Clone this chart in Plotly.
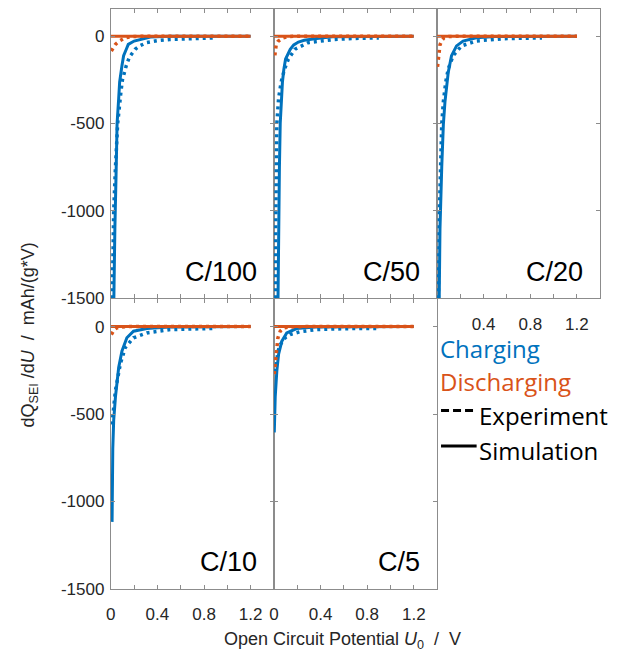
import plotly.graph_objects as go

W, H = 621, 652
BLUE = "#0072BD"
ORANGE = "#D95319"

panel_labels = ["C/100", "C/50", "C/20", "C/10", "C/5"]

# Charging, simulation (solid)
chg_sim_x = [
    [0.022, 0.025, 0.035, 0.045, 0.054, 0.068, 0.076, 0.096, 0.11, 0.133, 0.15, 0.2, 0.27, 0.34, 0.5, 1.2],
    [0.032, 0.034, 0.04, 0.047, 0.054, 0.063, 0.073, 0.085, 0.10, 0.14, 0.17, 0.21, 0.26, 0.35, 0.5, 1.2],
    [0.015, 0.017, 0.025, 0.04, 0.054, 0.068, 0.096, 0.124, 0.167, 0.223, 0.336, 0.5, 1.2],
    [0.011, 0.013, 0.017, 0.025, 0.04, 0.068, 0.096, 0.138, 0.195, 0.31, 0.5, 1.2],
    [0.003, 0.011, 0.025, 0.04, 0.068, 0.11, 0.195, 0.35, 1.2],
]
chg_sim_y = [
    [-1700, -1500, -1100, -800, -500, -355, -262, -168, -112, -75, -47, -28, -15, -5, -1, 0],
    [-1700, -1500, -1000, -750, -500, -370, -262, -190, -131, -75, -50, -34, -24, -15, -3, 0],
    [-1700, -1500, -1100, -750, -505, -374, -206, -112, -56, -28, -9, -2, 0],
    [-1117, -900, -700, -534, -402, -233, -139, -64, -26, -11, -2, 0],
    [-605, -402, -252, -158, -83, -36, -11, -2, 0],
]

# Charging, experiment (dotted)
chg_exp_x = [
    [0.008, 0.011, 0.025, 0.04, 0.059, 0.087, 0.1, 0.133, 0.16, 0.209, 0.25, 0.31, 0.4, 0.506, 0.7, 0.9],
    [0.01, 0.011, 0.017, 0.025, 0.04, 0.062, 0.09, 0.124, 0.18, 0.294, 0.52, 0.7, 0.9],
    [0.008, 0.01, 0.02, 0.04, 0.054, 0.075, 0.096, 0.138, 0.209, 0.336, 0.56, 0.75, 0.9],
    [0.01, 0.014, 0.04, 0.082, 0.124, 0.195, 0.31, 0.51, 0.7, 0.9],
    [0.012, 0.02, 0.035, 0.054, 0.075, 0.1, 0.14, 0.22, 0.36, 0.6, 0.9],
]
chg_exp_y = [
    [-1700, -1500, -1000, -750, -500, -318, -250, -168, -120, -75, -55, -37, -26, -19, -13, -10],
    [-1700, -1500, -1000, -500, -355, -262, -190, -131, -75, -37, -19, -13, -10],
    [-1700, -1500, -1000, -505, -374, -260, -187, -112, -56, -28, -15, -12, -10],
    [-560, -534, -364, -213, -120, -64, -36, -17, -12, -10],
    [-260, -200, -140, -105, -80, -62, -45, -30, -17, -12, -10],
]

# Discharging, experiment (dotted)
dis_exp_x = [
    [0.005, 0.02, 0.04, 0.074, 0.124, 0.18, 0.4, 1.2],
    [0.008, 0.012, 0.02, 0.035, 0.055, 0.08, 0.12, 0.2, 1.2],
    [0.004, 0.008, 0.012, 0.017, 0.025, 0.04, 0.06, 0.1, 0.2, 1.2],
    [0.005, 0.01, 0.02, 0.03, 0.05, 0.08, 0.15, 1.2],
    [0.003, 0.011, 0.017, 0.025, 0.034, 0.054, 0.082, 0.13, 0.25, 1.2],
]
dis_exp_y = [
    [-85, -65, -47, -28, -9, -2, 0, 0],
    [-110, -80, -45, -30, -20, -10, -3, 0, 0],
    [-175, -140, -105, -80, -50, -25, -10, -2, 0, 0],
    [-45, -40, -30, -18, -8, -3, 0, 0],
    [-271, -215, -158, -111, -64, -26, -8, -2, 0, 0],
]

# Discharging, simulation (solid)
dis_sim_x = [[0, 1.2]] * 5
dis_sim_y = [[0, 0]] * 5

x_tickvals = [0, 0.2, 0.4, 0.6, 0.8, 1.0, 1.2, 1.4]
x_ticktext_full = ["0", " ", "0.4", " ", "0.8", " ", "1.2", " "]
x_ticktext_c20 = [" ", " ", "0.4", " ", "0.8", " ", "1.2", " "]
y_tickvals = [-1500, -1000, -500, 0]
y_ticktext = ["-1500", "-1000", "-500", "0"]

# panel geometry in pixels (left, right, top, bottom)
cols_px = [(107, 272), (272, 437), (437, 602)]
rows_px = [(9, 303), (304, 598)]
panel_pos = [(0, 0), (0, 1), (0, 2), (1, 0), (1, 1)]

def px(x):
    return x / W

def py(y):
    return 1 - y / H

fig = go.Figure()
layout = {}
AXC = "#8c8c8c"
TICKF = dict(family="Liberation Sans, Arial", size=17, color="#262626")
DOT = "3px,4px"

for i in range(5):
    r, c = panel_pos[i]
    n = "" if i == 0 else str(i + 1)
    xa, ya = "x" + n, "y" + n
    fig.add_trace(go.Scatter(x=chg_exp_x[i], y=chg_exp_y[i], mode="lines",
                             line=dict(color=BLUE, width=3.5, dash=DOT),
                             xaxis=xa, yaxis=ya, showlegend=False))
    fig.add_trace(go.Scatter(x=chg_sim_x[i], y=chg_sim_y[i], mode="lines",
                             line=dict(color=BLUE, width=3),
                             xaxis=xa, yaxis=ya, showlegend=False))
    fig.add_trace(go.Scatter(x=dis_exp_x[i], y=dis_exp_y[i], mode="lines",
                             line=dict(color=ORANGE, width=3.5, dash=DOT),
                             xaxis=xa, yaxis=ya, showlegend=False))
    fig.add_trace(go.Scatter(x=dis_sim_x[i], y=dis_sim_y[i], mode="lines",
                             line=dict(color=ORANGE, width=3),
                             xaxis=xa, yaxis=ya, showlegend=False))
    l, rr = cols_px[c]
    t, b = rows_px[r]
    if i == 2:
        xt = x_ticktext_c20
        showx = True
    elif r == 1:
        xt = x_ticktext_full
        showx = True
    else:
        xt = x_ticktext_full
        showx = False
    layout["xaxis" + n] = dict(
        domain=[px(l), px(rr)], range=[0, 1.4], anchor=ya,
        tickvals=x_tickvals, ticktext=xt, showticklabels=showx,
        ticks="inside", ticklen=4, tickcolor=AXC, tickwidth=1,
        showline=True, linecolor=AXC, linewidth=1, mirror="ticks",
        showgrid=False, zeroline=False, tickfont=TICKF, ticklabelstandoff=10,
    )
    layout["yaxis" + n] = dict(
        domain=[py(b), py(t)], range=[-1500, 156], anchor=xa,
        tickvals=y_tickvals, ticktext=y_ticktext, showticklabels=(c == 0),
        ticks="inside", ticklen=4, tickcolor=AXC, tickwidth=1,
        showline=True, linecolor=AXC, linewidth=1, mirror="ticks",
        showgrid=False, zeroline=False, tickfont=TICKF, ticklabelstandoff=2,
    )

annotations = []
for i in range(5):
    r, c = panel_pos[i]
    l, rr = cols_px[c]
    t, b = rows_px[r]
    annotations.append(dict(
        text=panel_labels[i], x=px(rr - 15), y=py(b - 27), xref="paper", yref="paper",
        xanchor="right", yanchor="middle", showarrow=False,
        font=dict(family="Liberation Sans, Arial", size=27, color="black"),
    ))

LEGF = "Open Sans"
annotations += [
    dict(text="Charging", x=px(438), y=py(354), xanchor="left", yanchor="middle",
         font=dict(family=LEGF, size=24, color=BLUE)),
    dict(text="Discharging", x=px(438), y=py(387), xanchor="left", yanchor="middle",
         font=dict(family=LEGF, size=24, color=ORANGE)),
    dict(text="Experiment", x=px(477), y=py(422), xanchor="left", yanchor="middle",
         font=dict(family=LEGF, size=24, color="black")),
    dict(text="Simulation", x=px(477), y=py(458), xanchor="left", yanchor="middle",
         font=dict(family=LEGF, size=24, color="black")),
    dict(text="Open Circuit Potential <i>U</i><sub>0</sub>\u00a0\u00a0/\u00a0\u00a0V",
         x=px(341), y=py(650), xanchor="center", yanchor="middle",
         font=dict(family="Liberation Sans, Arial", size=18, color="#262626")),
    dict(text="dQ<sub>SEI</sub> /d<i>U</i>\u00a0\u00a0/\u00a0\u00a0mAh/(g*V)",
         x=px(25), y=py(340), xanchor="center", yanchor="middle", textangle=-90,
         font=dict(family="Liberation Sans, Arial", size=18, color="#262626")),
]
for a in annotations:
    a.setdefault("xref", "paper")
    a.setdefault("yref", "paper")
    a.setdefault("showarrow", False)

shapes = [
    dict(type="line", xref="paper", yref="paper", x0=px(441), x1=px(477), y0=py(417), y1=py(417),
         line=dict(color="black", width=3, dash="8px,4px")),
    dict(type="line", xref="paper", yref="paper", x0=px(441), x1=px(477), y0=py(453), y1=py(453),
         line=dict(color="black", width=3)),
]

fig.update_layout(
    width=W, height=H, margin=dict(l=0, r=0, t=0, b=0),
    paper_bgcolor="white", plot_bgcolor="white",
    annotations=annotations, shapes=shapes, showlegend=False,
    **layout,
)

fig.write_html("out.html")
